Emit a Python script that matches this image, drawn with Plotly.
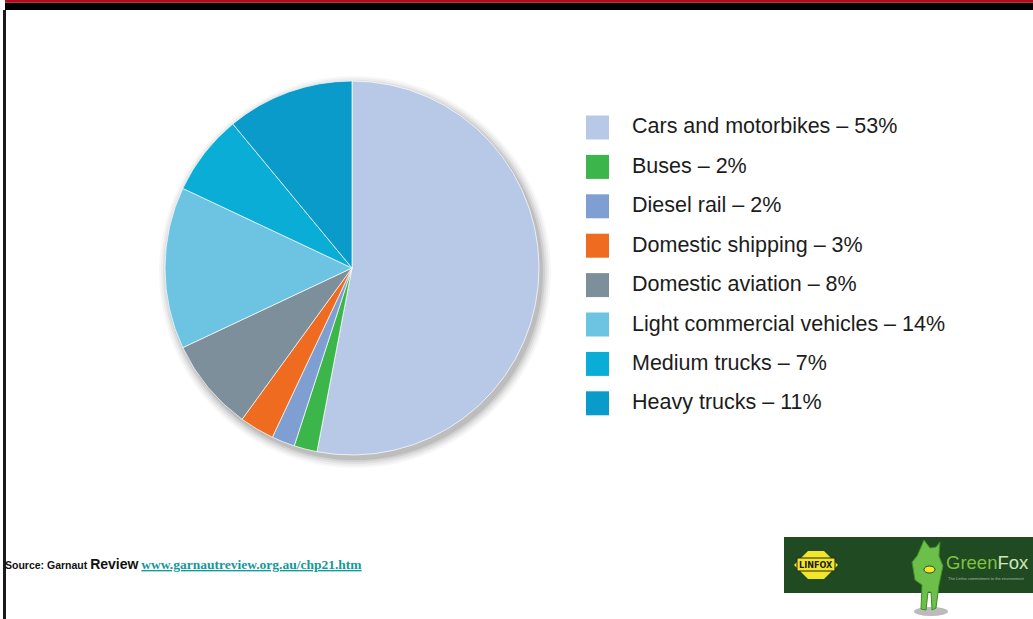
import plotly.graph_objects as go

# Transport emissions by mode (share of total, %)
categories = [
    "Cars and motorbikes",
    "Buses",
    "Diesel rail",
    "Domestic shipping",
    "Domestic aviation",
    "Light commercial vehicles",
    "Medium trucks",
    "Heavy trucks",
]
shares = [53, 2, 2, 3, 8, 14, 7, 11]
colors = ["#b7c9e6", "#3cb54a", "#7f9fd3", "#ee6b1f", "#7e8f9c", "#6cc3e2", "#0aadd6", "#0b9bcb"]

W, H = 1033, 619


def px(x):
    return x / W


def py(y):
    return 1 - y / H


# pie geometry in pixels
cx, cy, r = 352, 268, 187

fig = go.Figure()
fig.add_trace(go.Pie(
    labels=categories,
    values=shares,
    sort=False,
    direction="clockwise",
    rotation=0,
    textinfo="none",
    hoverinfo="label+percent",
    marker=dict(colors=colors, line=dict(color="rgba(255,255,255,0.7)", width=1)),
    domain=dict(x=[px(cx - r), px(cx + r)], y=[py(cy + r), py(cy - r)]),
    showlegend=False,
))

shapes = []
annotations = []

# soft drop shadow behind the pie
for k, op in [(9, 0.04), (7, 0.05), (5, 0.07), (3, 0.09), (1, 0.12)]:
    shapes.append(dict(
        type="circle", xref="paper", yref="paper", layer="below",
        x0=px(cx + 3 - r - k), x1=px(cx + 3 + r + k),
        y0=py(cy + 4 + r + k), y1=py(cy + 4 - r - k),
        fillcolor=f"rgba(60,60,60,{op})", line=dict(width=0),
    ))

# legend: coloured squares with labels
row0, step = 127.5, 39.4
for i, (name, val, col) in enumerate(zip(categories, shares, colors)):
    yc = row0 + i * step
    shapes.append(dict(
        type="rect", xref="paper", yref="paper",
        x0=px(586), x1=px(609), y0=py(yc + 12), y1=py(yc - 12),
        fillcolor=col, line=dict(width=0),
    ))
    annotations.append(dict(
        xref="paper", yref="paper", x=px(630), y=py(yc - 1),
        xanchor="left", yanchor="middle", showarrow=False,
        text=f"{name} – {val}%",
        font=dict(family="Liberation Sans, Arial, sans-serif", size=21.5, color="#1c1c1c"),
    ))

# page frame: red/black top band and left rule
shapes += [
    dict(type="rect", xref="paper", yref="paper", x0=px(5), x1=1, y0=py(10), y1=py(2.5),
         fillcolor="#000000", line=dict(width=0)),
    dict(type="rect", xref="paper", yref="paper", x0=px(5), x1=1, y0=py(2.5), y1=1,
         fillcolor="#b5091c", line=dict(width=0)),
    dict(type="rect", xref="paper", yref="paper", x0=px(3), x1=px(6), y0=0, y1=py(10),
         fillcolor="#1a1a1a", line=dict(width=0)),
]

# source line
annotations.append(dict(
    xref="paper", yref="paper", x=px(3), y=py(564),
    xanchor="left", yanchor="middle", showarrow=False,
    text=("<b>Source: Garnaut </b><span style='font-size:14px'><b>Review</b></span> "
          "<span style='font-family:Liberation Serif, Times New Roman, serif;font-size:13.5px;color:#13999a'>"
          "<b><u>www.garnautreview.org.au/chp21.htm</u></b></span>"),
    font=dict(family="Liberation Sans, Arial, sans-serif", size=10.5, color="#111111"),
))

# Linfox GreenFox banner
shapes += [
    dict(type="rect", xref="paper", yref="paper", x0=px(784), x1=1, y0=py(593), y1=py(537),
         fillcolor="#1f4a22", line=dict(width=0)),
    # Linfox yellow badge
    dict(type="path", xref="paper", yref="paper",
         path=(f"M {px(794)},{py(565)} L {px(808)},{py(551)} L {px(824)},{py(551)} "
               f"L {px(838)},{py(565)} L {px(824)},{py(579)} L {px(808)},{py(579)} Z"),
         fillcolor="#f3e62a", line=dict(width=0)),
    dict(type="rect", xref="paper", yref="paper", x0=px(797), x1=px(835), y0=py(571), y1=py(558),
         fillcolor="#f3e62a", line=dict(color="#222", width=1)),
    # fox shadow
    dict(type="circle", xref="paper", yref="paper", x0=px(914), x1=px(948), y0=py(616), y1=py(607),
         fillcolor="rgba(120,120,120,0.5)", line=dict(width=0)),
    # fox figure (simplified silhouette)
    dict(type="path", xref="paper", yref="paper",
         path=(f"M {px(921)},{py(547)} L {px(924)},{py(540)} L {px(930)},{py(548)} "
               f"L {px(936)},{py(547)} L {px(940)},{py(542)} L {px(939)},{py(556)} "
               f"L {px(943)},{py(566)} L {px(939)},{py(585)} L {px(936)},{py(608)} "
               f"L {px(932)},{py(610)} L {px(931)},{py(592)} L {px(928)},{py(592)} "
               f"L {px(926)},{py(610)} L {px(921)},{py(609)} L {px(922)},{py(585)} "
               f"L {px(915)},{py(580)} L {px(912)},{py(562)} L {px(917)},{py(556)} Z"),
         fillcolor="#6cc04a", line=dict(color="#3d8c24", width=1)),
    dict(type="circle", xref="paper", yref="paper", x0=px(924), x1=px(935), y0=py(573), y1=py(566),
         fillcolor="#f3e62a", line=dict(color="#1f4a22", width=1)),
]
annotations += [
    dict(xref="paper", yref="paper", x=px(816), y=py(565), xanchor="center", yanchor="middle",
         showarrow=False, text="<b>LINFOX</b>",
         font=dict(family="DejaVu Sans Condensed, Liberation Sans Narrow, sans-serif", size=9, color="#1a1a1a")),
    dict(xref="paper", yref="paper", x=px(944), y=py(562), xanchor="left", yanchor="middle",
         showarrow=False,
         text="<span style='color:#7fc241'>Green</span><span style='color:#cfe8b8'>Fox</span>",
         font=dict(family="Liberation Sans, Arial, sans-serif", size=18.5)),
    dict(xref="paper", yref="paper", x=px(946), y=py(578), xanchor="left", yanchor="middle",
         showarrow=False, text="The Linfox commitment to the environment",
         font=dict(family="Liberation Sans, Arial, sans-serif", size=4, color="#a9b8a5")),
]

fig.update_layout(
    width=W, height=H,
    margin=dict(l=0, r=0, t=0, b=0),
    paper_bgcolor="white",
    plot_bgcolor="white",
    shapes=shapes,
    annotations=annotations,
    showlegend=False,
)

fig.write_html("out.html")
